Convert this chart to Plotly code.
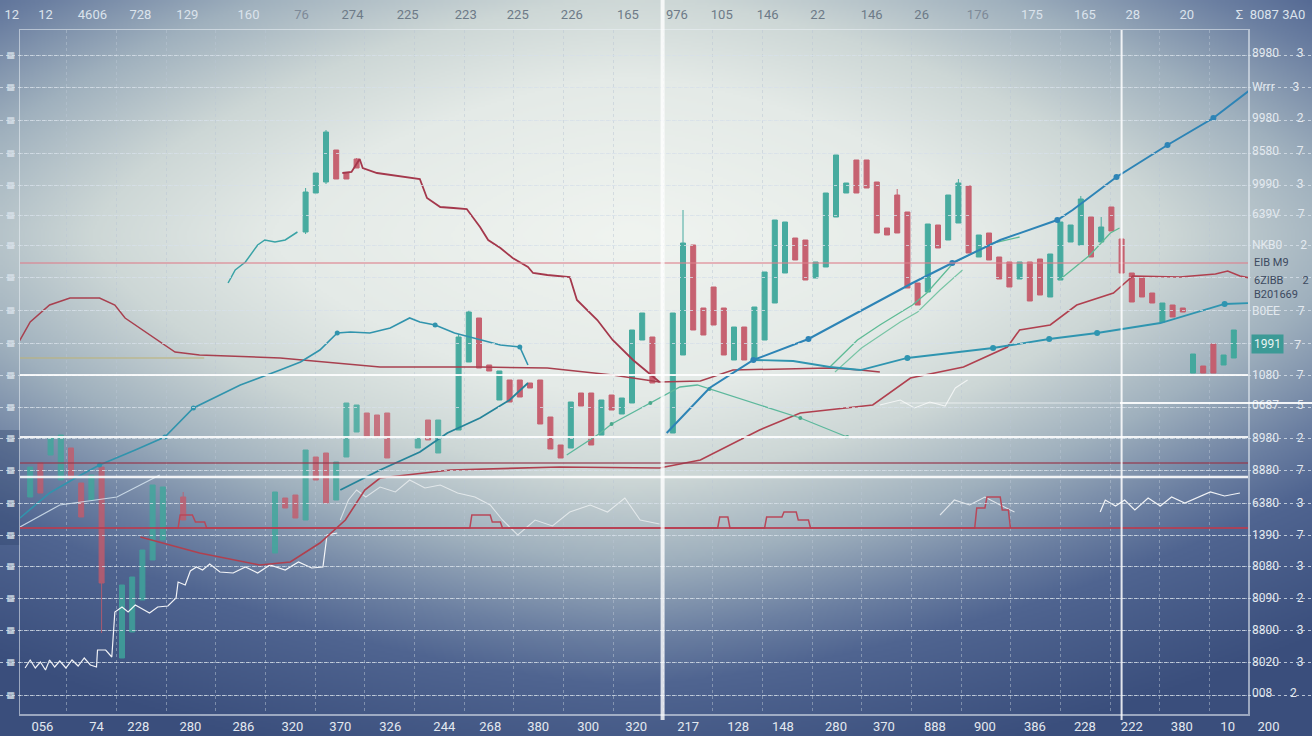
import base64
import struct
import zlib

import numpy as np
import plotly.graph_objects as go

# ---------------------------------------------------------------- data
# time axis: candle index; price axis: chart units
top_labels = ["12", "12", "4606", "728", "129", "160", "76", "274", "225", "223", "225", "226", "165",
              "976", "105", "146", "22", "146", "26", "176", "175", "165", "28", "20", "Σ  8087 3A0"]
top_pos = [-0.8, 2.5, 7.1, 11.8, 16.4, 22.4, 27.6, 32.6, 38.0, 43.7, 48.8, 54.1, 59.6,
           64.4, 68.8, 73.3, 78.2, 83.5, 88.4, 93.9, 99.2, 104.4, 109.1, 114.4, 122.6]

bottom_labels = ["056", "74", "228", "280", "286", "320", "370", "326", "244", "268", "380", "300", "320",
                 "217", "128", "148", "280", "370", "888", "900", "386", "228", "222", "380", "10", "200"]
bottom_pos = [2.2, 7.5, 11.6, 16.7, 21.9, 26.7, 31.4, 36.3, 41.6, 46.1, 50.8, 55.7, 60.4,
              65.5, 70.4, 74.8, 80.0, 84.7, 89.7, 94.6, 99.5, 104.4, 109.0, 113.9, 118.4, 122.4]

right_values = [661, 627, 596, 563, 530, 500, 469, 403, 339, 309, 276, 244, 211, 179, 148, 116, 84, 52, 21]
right_main = ["8980", "Wrrr", "9980", "8580", "9990", "639V", "NKB0", "B0EE", "1080", "0687", "8980",
              "8880", "6380", "1390", "8080", "8090", "8800", "8020", "008"]
right_digit = ["3", "3", "2", "7", "3", "7", "2", "7", "7", "5", "2", "7", "3", "7", "3", "2", "3", "3", "2"]

left_values = [659, 627, 594, 561, 529, 499, 469, 437, 404, 371, 339, 307, 276, 244, 211, 179, 148, 116, 84, 52, 19]

# upper candle series
up_t = [28, 29, 30, 31, 32, 33, 43, 44, 45, 46, 47, 48, 49, 50, 51, 52, 53, 54, 55, 56, 57, 58, 59, 60, 61, 62,
        64, 65, 66, 67, 68, 69, 70, 71, 72, 73, 74, 75, 76, 77, 78, 79, 80, 81, 82, 83, 84, 85, 86, 87, 88, 89,
        90, 91, 92, 93, 94, 95, 96, 97, 98, 99, 100, 101, 102, 103, 104, 105, 106, 107, 108, 109, 110, 111,
        112, 113, 114, 115, 116, 117, 118, 119]
up_open = [482, 521, 532, 564, 541, 555, 284, 352, 396, 349, 314, 334, 334, 331, 334, 297, 269, 266, 321, 321,
           279, 319, 300, 311, 374, 377, 281, 359, 469, 406, 427, 406, 354, 387, 354, 374, 411, 441, 476, 474,
           436, 447, 497, 521, 554, 554, 532, 486, 519, 502, 431, 422, 489, 474, 491, 528, 457, 481, 457, 452,
           435, 452, 455, 417, 434, 472, 469, 497, 472, 507, 475, 441, 436, 421, 392, 409, 406, 341, 348, 370,
           349, 356]
up_close = [522, 541, 582, 535, 535, 546, 377, 402, 346, 343, 343, 312, 317, 326, 290, 265, 256, 312, 308, 269,
            314, 304, 316, 384, 401, 331, 401, 471, 384, 379, 389, 359, 387, 354, 407, 442, 494, 492, 454, 434,
            452, 521, 559, 531, 521, 526, 481, 479, 481, 426, 409, 490, 466, 519, 531, 461, 479, 454, 435, 427,
            452, 413, 419, 460, 492, 489, 515, 457, 487, 483, 441, 412, 417, 411, 411, 397, 402, 360, 341, 341,
            359, 384]
up_high = [526, 541, 584, 564, 541, 556, 380, 404, 396, 349, 343, 334, 334, 331, 334, 297, 269, 312, 321, 321,
           314, 319, 316, 384, 401, 377, 401, 504, 469, 406, 427, 406, 387, 387, 407, 442, 494, 492, 476, 474,
           452, 521, 559, 531, 554, 554, 532, 486, 525, 502, 431, 490, 489, 519, 535, 528, 479, 481, 457, 452,
           452, 452, 455, 460, 492, 489, 518, 497, 497, 507, 475, 441, 436, 421, 411, 409, 406, 360, 348, 370,
           359, 384]
up_low = [480, 521, 530, 535, 535, 546, 284, 352, 346, 343, 314, 312, 317, 326, 290, 265, 256, 266, 308, 269,
          279, 304, 300, 311, 374, 331, 281, 359, 384, 379, 389, 359, 354, 354, 354, 374, 411, 441, 454, 434,
          436, 447, 497, 521, 521, 526, 481, 479, 481, 426, 409, 422, 466, 474, 491, 461, 457, 454, 435, 427,
          435, 413, 419, 417, 434, 472, 469, 457, 472, 483, 441, 412, 417, 411, 392, 397, 402, 341, 341, 341,
          349, 356]

# lower (background layer) candle series
lo_t = [1, 2, 3, 4, 5, 6, 7, 8, 10, 11, 12, 13, 14, 16, 25, 26, 27, 28, 29, 30, 31, 32, 33, 34, 35, 36, 39, 40, 41]
lo_open = [217, 251, 259, 234, 266, 231, 214, 247, 56, 82, 114, 154, 174, 217, 161, 216, 219, 194, 257, 261,
           214, 257, 282, 301, 299, 301, 266, 294, 261]
lo_close = [247, 221, 276, 279, 236, 197, 239, 131, 129, 137, 164, 229, 227, 194, 222, 206, 196, 264, 234, 211,
            252, 311, 309, 277, 277, 256, 277, 274, 294]
lo_high = [247, 251, 278, 279, 266, 231, 239, 247, 129, 137, 164, 229, 227, 222, 222, 216, 219, 264, 257, 261,
           252, 311, 309, 301, 299, 301, 277, 294, 294]
lo_low = [217, 221, 259, 234, 236, 197, 214, 81, 56, 82, 114, 154, 174, 194, 161, 206, 196, 194, 234, 211,
          214, 257, 282, 277, 277, 256, 266, 274, 261]

# line series
red_desc_t = [31.6, 32.5, 33.3, 33.6, 35.0, 36.3, 37.5, 39.2, 39.9, 41.2, 42.5, 43.8, 45.1, 45.9, 47.1, 48.3,
              49.8, 50.3, 51.7, 53.9, 54.6, 56.6, 58.1, 60.1, 62.7]
red_desc_v = [541, 542, 555, 546, 541, 539, 537, 535, 516, 507, 506, 505, 487, 474, 466, 456, 447, 441, 439,
              437, 414, 394, 374, 354, 332]

red_flat_t = [-2.0, -1.5, 0, 1.0, 2.9, 4.9, 7.8, 9.3, 10.3, 11.3, 12.7, 15.2, 17.6, 25.5, 35.3, 45.1, 51.7,
              58.1, 62.7, 66.7, 69.9, 79.4, 82.4, 84.3]
red_flat_v = [357, 359, 374, 392, 409, 416, 416, 409, 396, 389, 379, 362, 359, 356, 347, 347, 346, 339, 332,
              333, 344, 346, 344, 342]

red_rise_t = [11.8, 17.6, 23.5, 26.5, 29.4, 31.9, 33.8, 35.3, 42.2, 52.9, 62.7, 66.7, 72.5, 76.5, 83.6, 87.3,
              92.5, 96.8, 98.0, 101.0, 103.6, 107.2, 109.1, 113.7, 117.2, 118.4, 119.6, 120.6]
red_rise_v = [177, 161, 149, 152, 171, 194, 224, 236, 244, 247, 246, 254, 284, 301, 309, 336, 347, 367, 384,
              389, 409, 421, 438, 437, 440, 443, 438, 436]

trend_t = [63.4, 67.6, 71.9, 77.3, 87.5, 91.4, 96.1, 101.7, 103.2, 107.5, 112.5, 117.0, 120.6]
trend_v = [281, 326, 354, 375, 431, 451, 474, 494, 504, 537, 569, 596, 624]
trend_mark_t = [71.9, 77.3, 91.4, 101.7, 107.5, 112.5, 117.0]
trend_mark_v = [354, 375, 451, 494, 537, 569, 596]

teal_mid_t = [0, 2.9, 5.6, 7.8, 11.3, 14.2, 17.0, 21.6, 25.5, 27.5, 29.4, 31.1, 32.4, 34.3, 36.3, 38.2, 39.2,
              40.7, 42.6, 44.6, 47.1, 49.0, 49.8]
teal_mid_v = [196, 221, 237, 249, 264, 277, 306, 329, 344, 352, 364, 381, 382, 381, 386, 396, 392, 389, 381,
              376, 369, 367, 349]
teal_mid_mark_t = [7.8, 14.2, 17.0, 31.1, 40.7, 49.0]
teal_mid_mark_v = [249, 277, 306, 381, 389, 367]

teal_top_t = [20.4, 21.1, 22.1, 23.3, 24.0, 25.0, 26.0, 27.2]
teal_top_v = [431, 444, 452, 469, 474, 472, 474, 482]

teal_low_t = [31.4, 35.3, 39.2, 41.9, 45.1, 48.0, 49.8]
teal_low_v = [224, 244, 262, 281, 296, 314, 331]

green_desc_t = [53.6, 56.9, 58.0, 61.8, 64.7, 66.4, 67.6, 72.5, 76.5, 81.1]
green_desc_v = [259, 281, 290, 311, 327, 329, 325, 309, 296, 277]
green_desc_mark_t = [58.0, 61.8, 67.6, 76.5, 81.1]
green_desc_mark_v = [290, 311, 325, 296, 277]

green_a_t = [79.4, 82.1, 84.3, 87.5, 88.9, 91.5, 95.4, 98.0]
green_a_v = [347, 374, 389, 409, 421, 451, 471, 477]
green_b_t = [79.9, 82.5, 86.3, 88.0, 90.2, 92.4]
green_b_v = [342, 366, 392, 402, 424, 444]
green_c_t = [101.9, 104.9, 106.9, 107.8]
green_c_v = [434, 459, 481, 486]

teal_right_t = [71.9, 75.8, 79.4, 82.4, 87.0, 95.4, 100.9, 105.6, 111.8, 118.1, 120.6]
teal_right_v = [354, 353, 347, 344, 356, 366, 375, 381, 391, 410, 411]
teal_right_mark_t = [87.0, 95.4, 100.9, 105.6, 118.1]
teal_right_mark_v = [356, 366, 375, 381, 410]

thin_t = [0, 3.9, 9.5, 13.7]
thin_v = [187, 209, 217, 239]

white_low_t = [0.5, 1.0, 1.5, 2.0, 2.5, 2.9, 3.4, 3.9, 4.5, 5.1, 5.7, 6.3, 6.9, 7.5, 7.6, 8.4, 9.0, 9.3, 10.0,
               10.6, 11.3, 12.0, 12.7, 13.5, 14.5, 15.3, 15.5, 16.2, 16.7, 17.3, 17.9, 18.6, 19.6, 20.9, 22.1,
               23.3, 24.5, 26.0, 27.3, 28.6, 29.7, 30.1, 31.1]
white_low_v = [46, 54, 46, 52, 44, 54, 47, 53, 46, 54, 48, 56, 49, 47, 64, 64, 57, 102, 107, 102, 109, 105, 101,
               107, 108, 116, 132, 129, 143, 147, 144, 150, 142, 141, 147, 141, 149, 144, 152, 146, 147, 179, 181]

white_mid_t = [31.4, 32.2, 33.0, 33.9, 35.3, 36.8, 38.2, 39.7, 41.2, 42.9, 44.6, 46.1, 47.3, 48.8, 50.5, 52.2,
               53.9, 55.9, 57.6, 59.3, 60.8, 62.7]
white_mid_v = [194, 214, 224, 217, 227, 222, 234, 226, 229, 221, 217, 209, 194, 179, 194, 188, 202, 209, 202,
               216, 194, 190]

white_r1_t = [84.3, 86.3, 87.7, 89.2, 90.7, 91.7, 92.9]
white_r1_v = [309, 314, 306, 312, 308, 326, 334]
white_r2_t = [90.2, 91.6, 93.1, 94.6, 96.1, 97.5]
white_r2_v = [199, 214, 209, 217, 209, 202]
white_r3_t = [105.9, 106.4, 107.4, 108.3, 109.3, 110.6, 111.8, 112.9, 114.2, 115.5, 116.7, 118.1, 119.6]
white_r3_v = [202, 214, 208, 214, 204, 216, 208, 217, 211, 217, 222, 218, 221]

step_t = [14.2, 15.5, 15.7, 16.9, 17.2, 18.1, 18.3, 44.1, 44.3, 46.1, 46.3, 47.1, 47.3, 68.4, 68.6, 69.4, 69.6,
          73.0, 73.2, 74.7, 74.9, 76.1, 76.3, 77.3, 77.5, 93.6, 93.8, 94.6, 94.8, 96.1, 96.3, 96.9, 97.1]
step_v = [186, 186, 199, 199, 192, 192, 186, 186, 199, 199, 192, 192, 186, 186, 197, 197, 186,
          186, 197, 197, 202, 202, 194, 194, 186, 186, 206, 206, 217, 217, 204, 204, 186]

level_values = [451, 339, 277, 251, 237, 186]

# ---------------------------------------------------------------- style
W, H = 1312, 736
PL, PR, PT, PB = 20, 1248, 30, 714
X_MAX = (PR - PL) / 10.2
Y_MAX = PB - PT
TEAL = "#3fa89c"
RED = "#c55b6b"
FONT = "Liberation Sans Narrow, Roboto, sans-serif"


def gradient_png(w, h):
    ys, xs = np.mgrid[0:h, 0:w].astype(float)
    X = xs / (w - 1) * W
    Y = ys / (h - 1) * H
    cx, cy = 630, 235
    ry = np.where(Y < cy, 400.0, 410.0)
    dx = np.abs(X - cx) / 900.0
    dy = np.abs(Y - cy) / ry
    d = (dx ** 1.5 + dy ** 1.5) ** (1 / 1.5)
    stops = [0, 0.4, 0.6, 0.8, 0.98, 1.1, 1.4]
    cols = [(240, 244, 240), (228, 234, 231), (205, 215, 214), (160, 177, 190),
            (108, 128, 162), (80, 101, 145), (58, 78, 124)]
    img = np.zeros((h, w, 3))
    for k in range(3):
        img[..., k] = np.interp(d, stops, [c[k] for c in cols])
    arr = img.clip(0, 255).astype(np.uint8)
    raw = b"".join(b"\x00" + arr[i].tobytes() for i in range(h))

    def chunk(t, dat):
        c = struct.pack(">I", len(dat)) + t + dat
        return c + struct.pack(">I", zlib.crc32(t + dat) & 0xffffffff)

    png = (b"\x89PNG\r\n\x1a\n" + chunk(b"IHDR", struct.pack(">IIBBBBB", w, h, 8, 2, 0, 0, 0))
           + chunk(b"IDAT", zlib.compress(raw, 9)) + chunk(b"IEND", b""))
    return "data:image/png;base64," + base64.b64encode(png).decode()


fig = go.Figure()

candle_style = dict(
    increasing=dict(line=dict(color=TEAL, width=1), fillcolor=TEAL),
    decreasing=dict(line=dict(color=RED, width=1), fillcolor=RED),
    hoverinfo="skip", showlegend=False, whiskerwidth=0,
)
fig.add_trace(go.Candlestick(x=lo_t, open=lo_open, high=lo_high, low=lo_low, close=lo_close,
                             opacity=0.8, **candle_style))
fig.add_trace(go.Candlestick(x=up_t, open=up_open, high=up_high, low=up_low, close=up_close,
                             opacity=0.95, **candle_style))


def line(t, v, color, width, opacity=1.0, dash="solid"):
    fig.add_trace(go.Scatter(x=t, y=v, mode="lines", line=dict(color=color, width=width, dash=dash),
                             opacity=opacity, hoverinfo="skip", showlegend=False))


def marks(t, v, color, size=6):
    fig.add_trace(go.Scatter(x=t, y=v, mode="markers", marker=dict(color=color, size=size),
                             hoverinfo="skip", showlegend=False))


line(white_low_t, white_low_v, "rgba(255,255,255,0.92)", 1.2)
line(white_mid_t, white_mid_v, "rgba(255,255,255,0.6)", 1.1)
line(white_r1_t, white_r1_v, "rgba(255,255,255,0.7)", 1.1)
line(white_r2_t, white_r2_v, "rgba(255,255,255,0.7)", 1.1)
line(white_r3_t, white_r3_v, "rgba(255,255,255,0.9)", 1.2)
line(step_t, step_v, "#b8485a", 1.5)
line(thin_t, thin_v, "rgba(220,235,245,0.8)", 1.2)
line(red_flat_t, red_flat_v, "#a8404f", 1.5)
line(red_rise_t, red_rise_v, "#b0404f", 1.6)
line(red_desc_t, red_desc_v, "#a4384c", 1.8)
line(teal_top_t, teal_top_v, "#3aa3a6", 1.5)
line(teal_mid_t, teal_mid_v, "#3194ad", 1.6)
marks(teal_mid_mark_t, teal_mid_mark_v, "#3194ad", 5)
line(teal_low_t, teal_low_v, "#25849a", 1.8)
line(green_desc_t, green_desc_v, "#5cb89c", 1.3)
marks(green_desc_mark_t, green_desc_mark_v, "#4aa88c", 4)
line(green_a_t, green_a_v, "#5dbb95", 1.3)
line(green_b_t, green_b_v, "#5dbb95", 1.1, 0.8)
line(green_c_t, green_c_v, "#5dbb95", 1.3)
line(teal_right_t, teal_right_v, "#2f95b0", 1.8)
marks(teal_right_mark_t, teal_right_mark_v, "#2f95b0", 6)
line(trend_t, trend_v, "#2d84b6", 2)
marks(trend_mark_t, trend_mark_v, "#2d84b6", 6)

# dummy traces for the label axes
fig.add_trace(go.Scatter(x=[0], y=[0], xaxis="x2", yaxis="y", mode="markers",
                         marker=dict(opacity=0), hoverinfo="skip", showlegend=False))
fig.add_trace(go.Scatter(x=[0], y=[0], xaxis="x3", yaxis="y", mode="markers",
                         marker=dict(opacity=0), hoverinfo="skip", showlegend=False))
fig.add_trace(go.Scatter(x=[0], y=[0], xaxis="x", yaxis="y2", mode="markers",
                         marker=dict(opacity=0), hoverinfo="skip", showlegend=False))

# horizontal level lines
level_styles = [("rgba(222,130,142,0.75)", 1.5), ("rgba(255,255,255,0.88)", 2.2),
                ("rgba(255,255,255,0.88)", 2.2), ("rgba(150,55,75,0.8)", 1.5),
                ("rgba(255,255,255,0.88)", 2.6), ("rgba(185,60,80,0.85)", 2)]
for lv, (col, wd) in zip(level_values, level_styles):
    fig.add_shape(type="line", xref="x domain", yref="y", x0=0, x1=1, y0=lv, y1=lv,
                  line=dict(color=col, width=wd), layer="above")
fig.add_shape(type="line", xref="x domain", yref="y", x0=0, x1=0.15, y0=356, y1=356,
              line=dict(color="rgba(190,180,120,0.7)", width=1.5))
fig.add_shape(type="line", xref="paper", yref="y", x0=1120 / W, x1=1, y0=311, y1=311,
              line=dict(color="rgba(255,255,255,0.9)", width=2))
fig.add_shape(type="line", xref="paper", yref="y", x0=900 / W, x1=1120 / W, y0=311, y1=311,
              line=dict(color="rgba(255,255,255,0.4)", width=1.5))
# vertical markers
fig.add_shape(type="line", xref="x", yref="paper", x0=63.0, x1=63.0, y0=16 / H, y1=1,
              line=dict(color="rgba(255,255,255,0.8)", width=4))
fig.add_shape(type="line", xref="x", yref="paper", x0=108.0, x1=108.0, y0=16 / H, y1=1 - PT / H,
              line=dict(color="rgba(255,255,255,0.85)", width=2))
# darker block on left axis
fig.add_shape(type="rect", xref="paper", yref="paper", x0=0, x1=PL / W, y0=1 - 545 / H, y1=1 - 430 / H,
              line=dict(width=0), fillcolor="rgba(45,65,105,0.35)", layer="below")

# annotations on right side
ann_font = dict(family=FONT, size=11, color="#3d4a60")
for txt, yv in [("EIB M9", 452), ("6ZIBB\u00a0\u00a0\u00a0\u00a0\u00a0\u00a0\u00a02", 434), ("B201669", 420)]:
    fig.add_annotation(x=1252 / W, y=yv, xref="paper", yref="y", text=txt, showarrow=False,
                       xanchor="left", font=ann_font)
fig.add_annotation(x=1251 / W, y=370, xref="paper", yref="y", text="1991", showarrow=False,
                   xanchor="left", bgcolor="#3c9a96", borderpad=2,
                   font=dict(family=FONT, size=12, color="#e8f4f2"))
fig.add_annotation(x=1297 / W, y=370, xref="paper", yref="y", text="7", showarrow=False,
                   xanchor="center", font=dict(family=FONT, size=13, color="#e3e9ef"))


def top_color(p):
    if p < 25 or p > 96:
        return "#dbe3ec"
    if p < 31 or p > 90:
        return "#7e8a98"
    return "#6d7a87"


top_text = [f'<span style="color:{top_color(p)}">{t}</span>' for t, p in zip(top_labels, top_pos)]
right_text = [f"{a}" + "\u00a0" * 6 + f"{b}" for a, b in zip(right_main, right_digit)]

axis_line = "rgba(235,240,246,0.55)"
fig.update_layout(
    width=W, height=H, margin=dict(l=0, r=0, t=0, b=0), autosize=False,
    paper_bgcolor="#8fa2b8", plot_bgcolor="rgba(0,0,0,0)", hovermode=False,
    showlegend=False,
    images=[dict(source=gradient_png(656, 368), xref="paper", yref="paper", x=0, y=1,
                 sizex=1, sizey=1, sizing="stretch", xanchor="left", yanchor="top", layer="below")],
    xaxis=dict(domain=[PL / W, PR / W], range=[0, X_MAX], showticklabels=False,
               tickmode="linear", tick0=4.6, dtick=4.87, showgrid=True,
               gridcolor="rgba(185,198,212,0.5)", griddash="dot", gridwidth=1,
               zeroline=False, showline=True, mirror=True, linecolor=axis_line, linewidth=1.5,
               rangeslider=dict(visible=False), fixedrange=True),
    yaxis=dict(domain=[1 - PB / H, 1 - PT / H], range=[0, Y_MAX], tickmode="array",
               tickvals=left_values, ticktext=["▦"] * len(left_values),
               tickfont=dict(family="DejaVu Sans", size=9, color="#dbe3ec"), ticklabelstandoff=2,
               showgrid=True, gridcolor="rgba(215,224,234,0.55)", griddash="dot", gridwidth=1,
               zeroline=False, showline=True, mirror=True, linecolor=axis_line, linewidth=1.5,
               fixedrange=True),
    yaxis2=dict(overlaying="y", side="right", anchor="x", range=[0, Y_MAX], tickmode="array",
                tickvals=right_values, ticktext=right_text, showgrid=False, zeroline=False,
                tickfont=dict(family=FONT, size=12, color="#e3e9ef"), ticklabelstandoff=3,
                fixedrange=True),
    xaxis2=dict(domain=[0, 1], anchor="y", side="bottom", range=[-PL / 10.2, (W - PL) / 10.2],
                tickmode="array", tickvals=bottom_pos, ticktext=bottom_labels, showgrid=False,
                zeroline=False, showline=False, ticks="",
                tickfont=dict(family=FONT, size=13, color="#e3e9f0"), ticklabelstandoff=3,
                fixedrange=True),
    xaxis3=dict(domain=[0, 1], anchor="y", side="top", range=[-PL / 10.2, (W - PL) / 10.2],
                tickmode="array", tickvals=top_pos, ticktext=top_text, showgrid=False,
                zeroline=False, showline=False, ticks="",
                tickfont=dict(family=FONT, size=13, color="#6d7a87"), ticklabelstandoff=7,
                fixedrange=True),
)

fig.write_html("out.html", config=dict(displayModeBar=False, staticPlot=True))
